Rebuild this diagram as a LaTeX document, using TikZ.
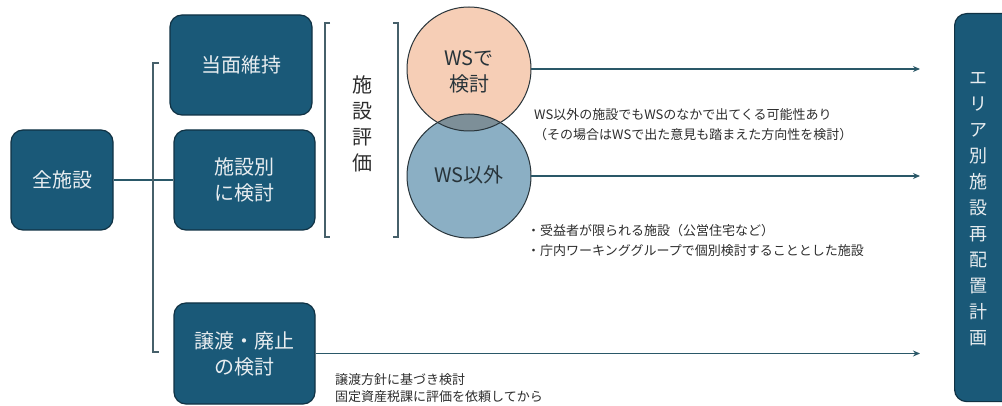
\documentclass[tikz,border=0pt]{standalone}
\usepackage{fontspec}
\setmainfont{Noto Sans CJK JP}
\usetikzlibrary{arrows.meta}
\definecolor{boxfill}{RGB}{26,89,120}
\definecolor{boxline}{RGB}{16,50,68}
\definecolor{boxtext}{RGB}{232,237,240}
\definecolor{peach}{RGB}{246,206,182}
\definecolor{steel}{RGB}{139,175,196}
\definecolor{lens}{RGB}{125,143,152}
\definecolor{circline}{RGB}{40,52,58}
\definecolor{connc}{RGB}{42,88,104}
\definecolor{brkc}{RGB}{70,96,106}
\definecolor{notec}{RGB}{45,45,45}
\begin{document}
\begin{tikzpicture}[x=1pt,y=-1pt,
  box/.style={draw=boxline, fill=boxfill, line width=1.2pt, rounded corners=12pt,
    text=boxtext, font=\fontsize{20}{26}\selectfont, align=center, inner sep=0pt},
  venn/.style={circle, inner sep=0pt, minimum size=124pt},
  venntext/.style={text=circline, font=\fontsize{20}{26}\selectfont, align=center, inner sep=0pt},
  conn/.style={draw=connc, line width=1.6pt},
  arr/.style={conn, -{Stealth[length=7pt,width=6pt]}},
  brk/.style={draw=brkc, line width=1.3pt},
  note/.style={text=notec, font=\fontsize{13}{20}\selectfont, align=left, inner sep=0pt, anchor=west}
]
\fill[white] (0,0) rectangle (1002,406);
\useasboundingbox (0,0) rectangle (1002,406);

% left boxes
\node[box, minimum width=102pt, minimum height=100pt] (all) at (62,180) {全施設};
\node[box, minimum width=142pt, minimum height=100pt] (keep) at (241,65) {当面維持};
\node[box, minimum width=141pt, minimum height=100pt] (each) at (244.5,180) {施設別\\に検討};
\node[box, minimum width=141pt, minimum height=101pt] (transfer) at (244.5,353.5) {譲渡・廃止\\の検討};

\draw[conn] (all.east) -- (each.west);
\draw[brk] (159,63) -- (153,63) -- (153,352) -- (159,352);

% 施設評価 bracket
\draw[brk] (330,23) -- (325,23) -- (325,237) -- (330,237);
\draw[brk] (393,23) -- (398,23) -- (398,237) -- (393,237);
\node[text=notec, font=\fontsize{20}{26}\selectfont, align=center, inner sep=0pt] (eval) at (362,124) {施\\設\\評\\価};

% Venn
\node[venn, fill=peach] (ws) at (469,69) {};
\node[venn, fill=steel] (nonws) at (469,176) {};
\begin{scope}
  \clip (ws.center) circle[radius=62pt];
  \fill[lens] (nonws.center) circle[radius=62pt];
\end{scope}
\draw[circline, line width=1pt] (ws.center) circle[radius=62pt];
\draw[circline, line width=1pt] (nonws.center) circle[radius=62pt];
\node[venntext] (wstext) at (469,72) {WSで\\検討};
\node[venntext] (nonwstext) at (469,175) {WS以外};

% right box
\node[box, minimum width=66pt, minimum height=388pt, anchor=north west] (plan) at (954,13) {};
\node[text=boxtext, font=\fontsize{18}{26}\selectfont, align=center, inner sep=0pt] (plantext) at (978,209)
  {エ\\リ\\ア\\別\\施\\設\\再\\配\\置\\計\\画};

% arrows
\coordinate (e1) at (920,69);
\coordinate (e2) at (920,176);
\coordinate (e3) at (920,353.5);
\draw[arr] (ws.east) -- (e1);
\draw[arr] (nonws.east) -- (e2);
\draw[arr] (transfer.east) -- (e3);

% notes
\node[note] (noteA) at (534,125) {WS以外の施設でもWSのなかで出てくる可能性あり\\（その場合はWSで出た意見も踏まえた方向性を検討）};
\node[note] (noteB) at (527,240) {・受益者が限られる施設（公営住宅など）\\・庁内ワーキンググループで個別検討することとした施設};
\node[note, font=\fontsize{13}{17}\selectfont] (noteC) at (335,388.5) {譲渡方針に基づき検討\\固定資産税課に評価を依頼してから};
\end{tikzpicture}
\end{document}
